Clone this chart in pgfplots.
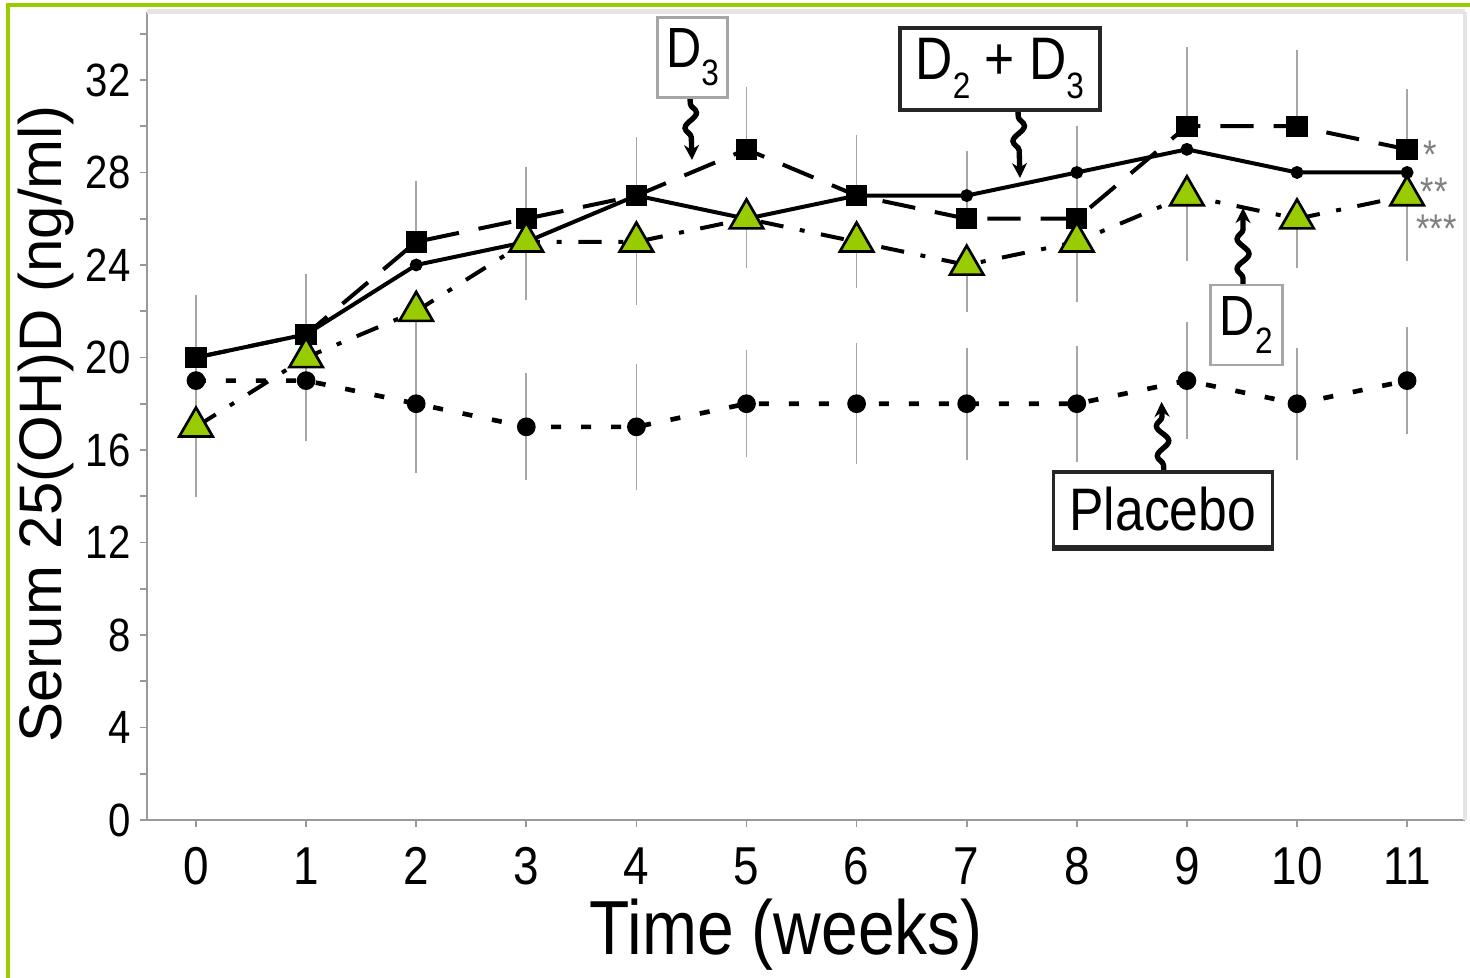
\documentclass[border=0pt]{standalone}
\usepackage{fontspec}
\setmainfont[FakeStretch=0.86]{Liberation Sans}
\newfontfamily\widefont{Liberation Sans}
\usepackage{pgfplots}
\usepackage{pgfplotstable}
\pgfplotsset{compat=1.18}
\usetikzlibrary{decorations.pathmorphing,arrows.meta}
\definecolor{trigreen}{RGB}{153,204,0}
\definecolor{framegreen}{RGB}{153,204,0}
\newcommand\sub[1]{\raisebox{-0.32em}{\fontsize{11}{11}\selectfont #1}}

% week, mean, error
\pgfplotstableread{
x y e
0 19 2.4
1 19 2.4
2 18 2.8
3 17 2.1
4 17 2.5
5 18 2.1
6 18 2.4
7 18 2.2
8 18 2.3
9 19 2.3
10 18 2.2
11 19 2.1
}\placebo
\pgfplotstableread{
x y e
0 20 2.5
1 21 2.4
2 25 2.4
3 26 2.0
4 27 2.3
5 29 2.5
6 27 2.4
7 26 2.7
8 26 3.8
9 30 3.2
10 30 3.1
11 29 2.4
}\dthree
\pgfplotstableread{
x y e
0 17 2.8
1 20 2.4
2 22 2.6
3 25 2.3
4 25 2.5
5 26 1.9
6 25 1.8
7 24 1.8
8 25 2.4
9 27 2.6
10 26 1.9
11 27 2.6
}\dtwo
\pgfplotstableread{
x y
0 20
1 21
2 24
3 25
4 27
5 26
6 27
7 27
8 28
9 29
10 28
11 28
}\dboth

\begin{document}
\begin{tikzpicture}
\useasboundingbox (0,0) rectangle (441pt,293.4pt);
\draw[framegreen, line width=1pt] (2.4pt,0) -- (2.4pt,291.9pt) -- (441pt,291.9pt);
\begin{axis}[
    at={(44.1pt,47.4pt)}, anchor=south west,
    scale only axis, width=395.4pt, height=242.4pt,
    xmin=-0.445, xmax=11.526, ymin=0, ymax=34.94,
    axis x line*=bottom, axis y line*=left,
    axis line style={-, gray!80, line width=0.6pt},
    xtick={0,...,11}, ytick={0,4,...,32}, minor ytick={2,6,...,34},
    tick style={gray!80, line width=0.5pt},
    tick align=outside, major tick length=2pt, minor tick length=2pt,
    xticklabel style={font=\fontsize{16}{16}\selectfont, inner sep=0pt, yshift=-6pt},
    yticklabel style={font=\fontsize{14}{14}\selectfont, xshift=0.6pt},
    /pgf/number format/assume math mode=true,
    xlabel={Time (weeks)},
    xlabel style={at={(axis description cs:0.485,0)}, anchor=base, yshift=-40.5pt,
        inner sep=0pt, font=\fontsize{23}{23}\selectfont},
    ylabel={Serum 25(OH)D (ng/ml)},
    ylabel style={at={(axis description cs:-0.0645,0.49)}, rotate=0, anchor=base,
        inner sep=0pt, font=\widefont\fontsize{18}{18}\selectfont},
    clip=false,
]
% error bars
\addplot[draw=none, no marks, forget plot, error bars/.cd, y dir=both, y explicit,
    error bar style={gray!70, line width=0.5pt},
    error mark options={gray!70, mark size=1.5pt, line width=0.5pt}]
    table[x=x, y=y, y error=e] {\placebo};
\addplot[draw=none, no marks, forget plot, error bars/.cd, y dir=plus, y explicit,
    error bar style={gray!70, line width=0.5pt},
    error mark options={gray!70, mark size=1.5pt, line width=0.5pt}]
    table[x=x, y=y, y error=e] {\dthree};
\addplot[draw=none, no marks, forget plot, error bars/.cd, y dir=minus, y explicit,
    error bar style={gray!70, line width=0.5pt},
    error mark options={gray!70, mark size=1.5pt, line width=0.5pt}]
    table[x=x, y=y, y error=e] {\dtwo};
% series
\addplot[black, line width=1.4pt, dash pattern=on 3pt off 6pt,
    mark=*, mark size=2.1pt, mark options={solid}] table[x=x, y=y] {\placebo};
\addplot[black, line width=1.2pt, dash pattern=on 10pt off 6pt,
    mark=square*, mark size=2.6pt, mark options={solid}] table[x=x, y=y] {\dthree};
\addplot[black, line width=1.2pt, mark=*, mark size=1.3pt] table[x=x, y=y] {\dboth};
\addplot[black, line width=1.2pt, dash pattern=on 7pt off 5pt on 1.5pt off 5pt,
    mark=triangle*, mark size=5.8pt,
    mark options={solid, fill=trigreen, draw=black, line width=0.8pt}]
    table[x=x, y=y] {\dtwo};
% frame top and right
\draw[gray!20, line width=1.5pt] (rel axis cs:0,1) -- (rel axis cs:1,1);
\draw[gray!20, line width=1pt] (rel axis cs:1,1) -- (rel axis cs:1,0);
% labels
\tikzset{squig/.style={line width=1.6pt, decorate,
    decoration={snake, amplitude=1.8pt, segment length=9pt, pre length=2pt, post length=4pt},
    -{Stealth[length=4.5pt, width=4.5pt]}}}
\draw[squig] (axis cs:4.487,31.27) -- (axis cs:4.505,28.54);
\draw[squig] (axis cs:7.466,30.70) -- (axis cs:7.484,27.76);
\draw[squig] (axis cs:9.51,23.14) -- (axis cs:9.51,26.46);
\draw[squig] (axis cs:8.79,15.05) -- (axis cs:8.77,18.08);
\node[draw=gray!70, line width=1pt, fill=white, minimum width=21pt, minimum height=24pt,
    inner sep=0pt, font=\fontsize{17}{17}\selectfont] at (axis cs:4.51,32.97) {D\sub{3}};
\node[draw=black!85, line width=1.3pt, fill=white, minimum width=60pt, minimum height=24.6pt,
    inner sep=0pt, font=\fontsize{18}{18}\selectfont] at (axis cs:7.30,32.48) {D\sub{2} + D\sub{3}};
\node[draw=gray!70, line width=0.7pt, fill=white, minimum width=21.6pt, minimum height=24pt,
    inner sep=0pt, font=\fontsize{17}{17}\selectfont] at (axis cs:9.54,21.41) {D\sub{2}};
\node[draw=black!85, line width=1pt, fill=white, minimum width=65.7pt, minimum height=22.5pt,
    inner sep=0pt, font=\fontsize{18}{18}\selectfont] (pl) at (axis cs:8.78,13.43) {Placebo};
\draw[black!85, line width=1.3pt] (pl.south west) -- (pl.south east);
\node[gray, anchor=west, inner sep=0pt, yshift=-3pt, font=\fontsize{12}{12}\selectfont]
    at (axis cs:11.14,29.2) {*};
\node[gray, anchor=west, inner sep=0pt, yshift=-3pt, font=\fontsize{12}{12}\selectfont]
    at (axis cs:11.12,27.6) {**};
\node[gray, anchor=west, inner sep=0pt, yshift=-3pt, font=\fontsize{12}{12}\selectfont]
    at (axis cs:11.08,26.0) {***};
\end{axis}
\end{tikzpicture}
\end{document}
